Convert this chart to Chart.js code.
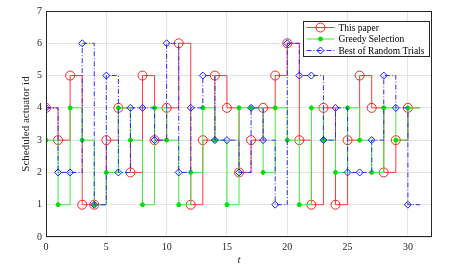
<!DOCTYPE html>
<html>
<head>
<meta charset="utf-8">
<script src="https://cdn.jsdelivr.net/npm/chart.js@4/dist/chart.umd.min.js"></script>
<style>
  html, body { margin: 0; padding: 0; background: #fff; }
  #wrap { width: 451px; height: 269px; }
</style>
</head>
<body>
<div id="wrap"><canvas id="scheduleChart"></canvas></div>
<script>
// time steps and scheduled actuator ids
const steps = [0,1,2,3,4,5,6,7,8,9,10,11,12,13,14,15,16,17,18,19,20,21,22,23,24,25,26,27,28,29,30];
const thisPaper = [4,3,5,1,1,3,4,2,5,3,4,6,1,3,5,4,2,3,4,5,6,3,1,4,1,3,5,4,2,3,4];
const greedy = [3,1,4,3,1,2,4,3,1,4,3,1,2,4,3,1,4,4,2,4,3,1,4,3,2,4,3,2,4,3,4];
const randomBest = [4,2,2,6,1,5,2,4,4,3,6,2,4,5,3,3,2,4,3,1,6,5,5,3,4,2,2,3,5,4,1];
const xTicks = [0,5,10,15,20,25,30];
const yTicks = [0,1,2,3,4,5,6,7];
const stairsEnd = 31;

const serif = '"Liberation Serif", "DejaVu Serif", serif';
const axisColor = '#262626';

// stairs: the last level is held until stairsEnd (no marker there)
function stairs(values) {
    const pts = steps.map((t, i) => ({ x: t, y: values[i] }));
    pts.push({ x: stairsEnd, y: values[values.length - 1] });
    return pts;
}
function hideLast(r) {
    return ctx => ctx.dataIndex === steps.length ? 0 : r;
}

// box around the axes + legend inside the plot (MATLAB style)
const boxLegend = {
    id: 'boxLegend',
    afterDraw(chart) {
        const { ctx, chartArea: a } = chart;
        ctx.save();
        ctx.strokeStyle = axisColor;
        ctx.lineWidth = 1;
        ctx.strokeRect(Math.round(a.left) + 0.5, Math.round(a.top) + 0.5,
                       Math.round(a.width) - 1, Math.round(a.height) - 1);

        // legend
        const bx = 303.5, by = 21.5, bw = 126, bh = 35;
        ctx.fillStyle = '#fff';
        ctx.fillRect(bx, by, bw, bh);
        ctx.strokeStyle = axisColor;
        ctx.strokeRect(bx, by, bw, bh);
        ctx.font = '9.5px ' + serif;
        ctx.textBaseline = 'middle';
        chart.data.datasets.forEach((ds, i) => {
            const y = by + 6 + i * 11.5;
            ctx.strokeStyle = ds.borderColor;
            ctx.lineWidth = ds.borderWidth;
            ctx.setLineDash(ds.borderDash || []);
            ctx.beginPath();
            ctx.moveTo(bx + 3, y);
            ctx.lineTo(bx + 31, y);
            ctx.stroke();
            ctx.setLineDash([]);
            ctx.strokeStyle = ds.pointBorderColor;
            ctx.fillStyle = ds.pointBackgroundColor;
            Chart.helpers.drawPoint(ctx, {
                pointStyle: ds.pointStyle,
                radius: ds.legendRadius,
                rotation: 0,
                borderWidth: ds.pointBorderWidth
            }, bx + 17, y);
            ctx.fillStyle = '#000';
            ctx.fillText(ds.label, bx + 35, y + 0.5);
        });
        ctx.restore();
    }
};

new Chart(document.getElementById('scheduleChart'), {
    type: 'line',
    data: {
        datasets: [{
            label: 'This paper',
            data: stairs(thisPaper),
            stepped: true,
            borderColor: '#ff3b3b',
            borderWidth: 1,
            pointStyle: 'circle',
            pointRadius: hideLast(4.5),
            legendRadius: 4.5,
            pointBorderColor: '#ff2020',
            pointBackgroundColor: 'rgba(0,0,0,0)',
            pointBorderWidth: 1,
            order: 3
        }, {
            label: 'Greedy Selection',
            data: stairs(greedy),
            stepped: true,
            borderColor: '#3af03a',
            borderWidth: 1,
            pointStyle: 'circle',
            pointRadius: hideLast(2),
            legendRadius: 2,
            pointBorderColor: '#00e000',
            pointBackgroundColor: '#00e000',
            pointBorderWidth: 1,
            order: 2
        }, {
            label: 'Best of Random Trials',
            data: stairs(randomBest),
            stepped: true,
            borderColor: '#2a2aff',
            borderWidth: 1,
            borderDash: [5, 2, 1, 2],
            pointStyle: 'rectRot',
            pointRadius: hideLast(3.5),
            legendRadius: 3.5,
            pointBorderColor: '#1a1aff',
            pointBackgroundColor: 'rgba(0,0,0,0)',
            pointBorderWidth: 1,
            order: 1
        }]
    },
    options: {
        responsive: true,
        maintainAspectRatio: false,
        animation: false,
        layout: { padding: { top: 11, right: 19, left: 0, bottom: 0 } },
        plugins: {
            legend: { display: false },
            tooltip: { enabled: false }
        },
        scales: {
            x: {
                type: 'linear',
                min: 0,
                max: 32,
                afterBuildTicks: axis => { axis.ticks = xTicks.map(v => ({ value: v })); },
                afterFit: axis => { axis.height = 32; },
                grid: { color: '#e4e4e4', drawTicks: false },
                border: { display: false },
                ticks: { color: axisColor, padding: 4, font: { family: serif, size: 10 } },
                title: {
                    display: true,
                    text: 't',
                    color: axisColor,
                    padding: { top: 2, bottom: 2 },
                    font: { family: serif, size: 11, style: 'italic' }
                }
            },
            y: {
                min: 0,
                max: 7,
                afterBuildTicks: axis => { axis.ticks = yTicks.map(v => ({ value: v })); },
                afterFit: axis => { axis.width = 46; },
                grid: { color: '#e4e4e4', drawTicks: false },
                border: { display: false },
                ticks: { color: axisColor, padding: 4, font: { family: serif, size: 10 } },
                title: {
                    display: true,
                    text: 'Scheduled actuator id',
                    color: axisColor,
                    padding: { top: 20, bottom: 0 },
                    font: { family: serif, size: 11 }
                }
            }
        }
    },
    plugins: [boxLegend]
});
</script>
</body>
</html>
